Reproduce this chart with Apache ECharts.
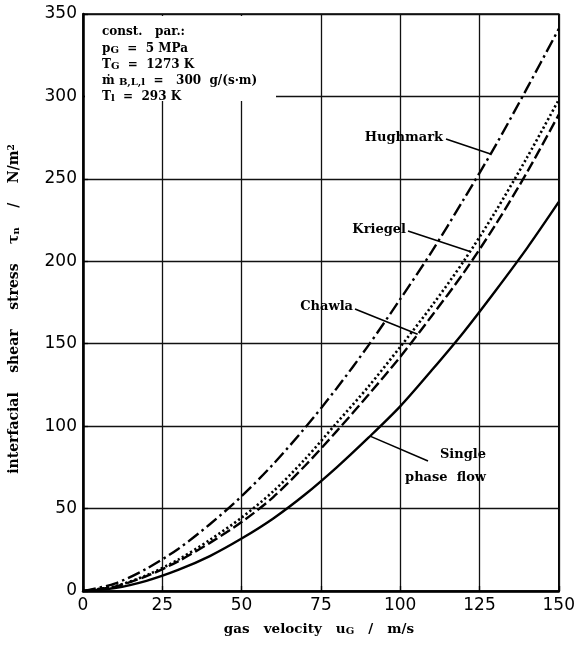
<!DOCTYPE html>
<html>
<head>
<meta charset="utf-8">
<script src="https://cdn.jsdelivr.net/npm/echarts@6/dist/echarts.min.js"></script>
<style>
  html, body { margin: 0; padding: 0; background: #fff; }
  #chart { width: 578px; height: 651px; }
</style>
</head>
<body>
<div id="chart"></div>
<script>
// Gas velocity u_G in m/s
const velocity = [0, 10, 20, 30, 40, 50, 60, 70, 80, 90, 100, 110, 120, 130, 140, 150];
// Interfacial shear stress in N/m^2 for each correlation
const hughmark = [0, 4.5, 13.5, 25.5, 40.5, 57.5, 77, 99, 123, 149, 177, 206, 237.5, 270, 305, 341];
const kriegel = [0, 2.9, 9.5, 19, 31, 44.5, 60.5, 80, 102, 124, 148, 173, 200, 230, 263, 298];
const chawla = [0, 2.7, 9, 18, 29.2, 41.8, 57, 76, 97, 119, 142, 167, 193, 222, 254, 289];
const singlePhase = [0, 1.8, 6.2, 12.8, 21.2, 31.8, 44, 58.5, 75, 93, 112, 134, 157, 182, 208, 236];

// Axis ranges
const xRange = [0, 150, 25];
const yRange = [0, 350, 50];

const SERIF = '"DejaVu Serif", "Liberation Serif", serif';
const SANS = '"DejaVu Sans", "Liberation Sans", sans-serif';

const chart = echarts.init(document.getElementById('chart'), null, { renderer: 'canvas' });

function pairs(ys) { return velocity.map((v, i) => [v, ys[i]]); }

function curveAt(ys, u) {
  for (let i = 0; i < velocity.length - 1; i++) {
    if (u >= velocity[i] && u <= velocity[i + 1]) {
      const t = (u - velocity[i]) / (velocity[i + 1] - velocity[i]);
      return ys[i] + t * (ys[i + 1] - ys[i]);
    }
  }
  return ys[ys.length - 1];
}

function curve(name, ys, type, width) {
  return {
    name, type: 'line', data: pairs(ys), symbol: 'none', smooth: 0.3,
    lineStyle: { color: '#000', width: width, type: type, cap: 'butt' },
    z: 3
  };
}

chart.setOption({
  animation: false,
  backgroundColor: '#fff',
  grid: { left: 83, right: 19, top: 14, bottom: 60, show: true, borderColor: '#000', borderWidth: 1.5 },
  xAxis: {
    type: 'value', min: xRange[0], max: xRange[1], interval: xRange[2],
    axisLine: { show: true, lineStyle: { color: '#000', width: 2.5 } },
    axisTick: { show: true, inside: true, length: 5, lineStyle: { color: '#000', width: 1.3 } },
    axisLabel: { color: '#000', fontFamily: SANS, fontSize: 17, margin: 6 },
    splitLine: { show: true, lineStyle: { color: '#111', width: 1.3 } }
  },
  yAxis: {
    type: 'value', min: yRange[0], max: yRange[1], interval: yRange[2],
    axisLine: { show: true, lineStyle: { color: '#000', width: 2.5 } },
    axisTick: { show: true, inside: true, length: 5, lineStyle: { color: '#000', width: 1.3 } },
    axisLabel: { color: '#000', fontFamily: SANS, fontSize: 17, margin: 6 },
    splitLine: { show: true, lineStyle: { color: '#111', width: 1.3 } }
  },
  series: [
    curve('Hughmark', hughmark, [13, 4, 2.5, 4], 2.4),
    curve('Kriegel', kriegel, [2.2, 2.6], 2.6),
    curve('Chawla', chawla, [11, 4], 2.4),
    curve('Single phase flow', singlePhase, 'solid', 2.4)
  ]
});

function px(u, ys) { return chart.convertToPixel({ gridIndex: 0 }, [u, curveAt(ys, u)]); }

const base = { fontFamily: SERIF, fontWeight: 'bold', fontSize: 12, fill: '#000' };
const rich = {
  sub: { fontFamily: SERIF, fontWeight: 'bold', fontSize: 10, verticalAlign: 'bottom', lineHeight: 7 },
  sup: { fontFamily: SERIF, fontWeight: 'bold', fontSize: 9, verticalAlign: 'top', lineHeight: 7 }
};

function label(text, x, y, align, size) {
  return { type: 'text', x, y, z: 101,
    style: Object.assign({}, base, { text, align: align || 'left', verticalAlign: 'middle', fontSize: size || 13, rich }) };
}

function leader(a, b) {
  return { type: 'line', z: 101, shape: { x1: a[0], y1: a[1], x2: b[0], y2: b[1] },
    style: { stroke: '#000', lineWidth: 1.6 } };
}

const hPt = px(128.5, hughmark);
const kPt = px(122, kriegel);
const cPt = px(105.5, chawla);
const sPt = px(90.5, singlePhase);

chart.setOption({
  graphic: [
    { type: 'rect', z: 100, shape: { x: 85, y: 16, width: 191, height: 85 }, style: { fill: '#fff' } },
    label('const.   par.:', 102, 32, 'left', 12),
    label('p{sub|G}  =  5 MPa', 102, 49, 'left', 12),
    label('T{sub|G}  =  1273 K', 102, 65, 'left', 12),
    label('ṁ {sub|B,L,l}  =   300  g/(s·m)', 102, 81, 'left', 12),
    label('T{sub|l}  =  293 K', 102, 97, 'left', 12),

    label('Hughmark', 443, 138, 'right'),
    leader([446, 139], hPt),
    label('Kriegel', 406, 230, 'right'),
    leader([408, 231], kPt),
    label('Chawla', 353, 307, 'right'),
    leader([355, 309], cPt),
    label('Single', 486, 455, 'right'),
    label('phase  flow', 486, 478, 'right'),
    leader(sPt, [428, 461]),

    { type: 'text', x: 319, y: 629, z: 101,
      style: Object.assign({}, base, { text: 'gas   velocity   u{sub|G}   /   m/s', align: 'center', verticalAlign: 'middle', fontSize: 13.5, rich }) },
    { type: 'text', x: 14, y: 309, z: 101, rotation: Math.PI / 2,
      style: Object.assign({}, base, { text: 'interfacial    shear    stress    τ{sub|n}    /    N/m{sup|2}', align: 'center', verticalAlign: 'middle', fontSize: 14, rich }) }
  ]
});
</script>
</body>
</html>
